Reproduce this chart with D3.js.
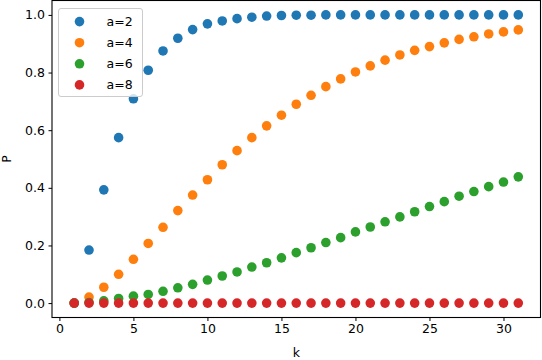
<!DOCTYPE html>
<html>
<head>
<meta charset="utf-8">
<script src="https://cdn.jsdelivr.net/npm/d3@7"></script>
<style>
  body { margin: 0; background: #fff; }
  svg { display: block; font-family: "DejaVu Sans", sans-serif; }
</style>
</head>
<body>
<div id="chart"></div>
<script>
// k values on the x axis
const ks = [1, 2, 3, 4, 5, 6, 7, 8, 9, 10, 11, 12, 13, 14, 15, 16, 17, 18, 19, 20, 21, 22, 23, 24, 25, 26, 27, 28, 29, 30, 31];

// P values, one list per a
const pA2 = [0, 0.184, 0.393, 0.574, 0.709, 0.808, 0.875, 0.919, 0.949, 0.969, 0.979, 0.987, 0.992, 0.996, 0.998, 0.999, 0.999, 1.0, 1.0, 1.0, 1.0, 1.0, 1.0, 1.0, 1.0, 1.0, 1.0, 1.0, 1.0, 1.0, 1.0];
const pA4 = [0, 0.021, 0.055, 0.100, 0.152, 0.207, 0.263, 0.321, 0.375, 0.428, 0.480, 0.529, 0.574, 0.615, 0.652, 0.690, 0.721, 0.751, 0.778, 0.802, 0.823, 0.843, 0.861, 0.877, 0.890, 0.903, 0.915, 0.924, 0.934, 0.941, 0.948];
const pA6 = [0, 0.002, 0.008, 0.016, 0.024, 0.030, 0.041, 0.053, 0.065, 0.080, 0.094, 0.108, 0.125, 0.140, 0.157, 0.175, 0.192, 0.210, 0.227, 0.247, 0.264, 0.282, 0.299, 0.317, 0.335, 0.352, 0.371, 0.387, 0.404, 0.420, 0.438];
const pA8 = [0, 0, 0, 0, 0, 0, 0, 0, 0, 0, 0, 0, 0, 0, 0, 0, 0, 0, 0, 0, 0, 0, 0, 0, 0, 0, 0, 0, 0, 0, 0];

const seriesNames = ["a=2", "a=4", "a=6", "a=8"];
const xTicks = [0, 5, 10, 15, 20, 25, 30];
const yTicks = [0.0, 0.2, 0.4, 0.6, 0.8, 1.0];

const colors = ["#1f77b4", "#ff7f0e", "#2ca02c", "#d62728"];

const series = [pA2, pA4, pA6, pA8].map((vals, i) => ({
    name: seriesNames[i],
    color: colors[i],
    points: ks.map((k, j) => ({ k: k, p: vals[j] }))
}));

// Dimensions
const width = 542;
const height = 360;
const margin = { top: 0.5, right: 1.5, bottom: 42.5, left: 52 };

const svg = d3.select("#chart")
    .append("svg")
    .attr("width", width)
    .attr("height", height)
    .attr("viewBox", `0 0 ${width} ${height}`);

const x = d3.scaleLinear()
    .domain([-0.5, 32.5])
    .range([margin.left, width - margin.right]);

const y = d3.scaleLinear()
    .domain([-0.05, 1.05])
    .range([height - margin.bottom, margin.top]);

// Points
series.forEach(s => {
    svg.append("g")
        .selectAll("circle")
        .data(s.points)
        .enter()
        .append("circle")
        .attr("cx", d => x(d.k))
        .attr("cy", d => y(d.p))
        .attr("r", 4.8)
        .attr("fill", s.color);
});

// Axes
const xAxis = svg.append("g")
    .attr("transform", `translate(0, ${height - margin.bottom})`)
    .call(d3.axisBottom(x).tickValues(xTicks).tickFormat(d3.format("d")).tickSize(3.5).tickPadding(3.5));

const yAxis = svg.append("g")
    .attr("transform", `translate(${margin.left}, 0)`)
    .call(d3.axisLeft(y).tickValues(yTicks).tickFormat(d3.format(".1f")).tickSize(3.5).tickPadding(3.5));

[xAxis, yAxis].forEach(g => {
    g.select(".domain").remove();
    g.selectAll(".tick line").attr("stroke", "#000").attr("stroke-width", 1);
    g.selectAll(".tick text")
        .attr("fill", "#000")
        .style("font-size", "12.5px")
        .style("font-family", "DejaVu Sans");
});

// Frame
svg.append("rect")
    .attr("x", margin.left)
    .attr("y", margin.top)
    .attr("width", width - margin.left - margin.right)
    .attr("height", height - margin.top - margin.bottom)
    .attr("fill", "none")
    .attr("stroke", "#000")
    .attr("stroke-width", 1.1);

// Axis labels
svg.append("text")
    .attr("x", (margin.left + width - margin.right) / 2)
    .attr("y", 357)
    .attr("text-anchor", "middle")
    .style("font-size", "12.5px")
    .text("k");

svg.append("text")
    .attr("transform", `translate(11, ${(margin.top + height - margin.bottom) / 2}) rotate(-90)`)
    .attr("text-anchor", "middle")
    .style("font-size", "12.5px")
    .text("P");

// Legend
const legend = svg.append("g");
legend.append("rect")
    .attr("x", 58.5)
    .attr("y", 8.5)
    .attr("width", 84)
    .attr("height", 88)
    .attr("rx", 2.5)
    .attr("fill", "#fff")
    .attr("fill-opacity", 0.8)
    .attr("stroke", "#cccccc")
    .attr("stroke-width", 1);

const rows = legend.selectAll(".row")
    .data(series)
    .enter()
    .append("g")
    .attr("transform", (d, i) => `translate(0, ${21.6 + i * 21.1})`);

rows.append("circle")
    .attr("cx", 79.5)
    .attr("cy", 0)
    .attr("r", 4.8)
    .attr("fill", d => d.color);

rows.append("text")
    .attr("x", 106.5)
    .attr("y", 0)
    .attr("dy", "0.35em")
    .style("font-size", "12.5px")
    .text(d => d.name);
</script>
</body>
</html>
